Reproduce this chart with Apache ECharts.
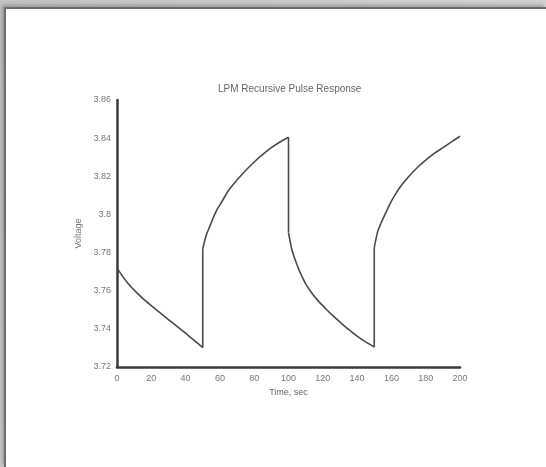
<!DOCTYPE html>
<html>
<head>
<meta charset="utf-8">
<script src="https://cdn.jsdelivr.net/npm/echarts@6/dist/echarts.min.js"></script>
<style>
  html, body { margin: 0; padding: 0; width: 546px; height: 467px; overflow: hidden;
    background: linear-gradient(135deg, #c4c4c4, #dedede); }
  #frame { position: absolute; left: 4px; top: 7px; right: 0; bottom: 0; background: #fff;
    border-top: 2px solid #6c6c6c; border-left: 2px solid #6c6c6c;
    box-shadow: -2px -2px 4px rgba(0,0,0,0.25); }
  #chart { position: absolute; left: 0; top: 0; width: 546px; height: 467px; }
</style>
</head>
<body>
<div id="frame"></div>
<div id="chart"></div>
<script>
const titleText = 'LPM Recursive Pulse Response';
const xName = 'Time, sec';
const yName = 'Voltage';

// time (sec) and voltage, segment by segment
const time1 = [0, 2, 4, 6, 8, 10, 15, 20, 25, 30, 35, 40, 45, 50];
const volt1 = [3.772, 3.7692, 3.7666, 3.7643, 3.7622, 3.7603, 3.756, 3.7522, 3.7485, 3.7449, 3.7413, 3.7377, 3.734, 3.7302];

const time2 = [50, 52, 54, 56, 58, 60, 62, 65, 70, 75, 80, 85, 90, 95, 100];
const volt2 = [3.782, 3.789, 3.7935, 3.798, 3.802, 3.805, 3.808, 3.8125, 3.818, 3.823, 3.8275, 3.8315, 3.835, 3.838, 3.8405];

const time3 = [100, 102, 104, 106, 108, 110, 114, 118, 122, 126, 130, 135, 140, 145, 150];
const volt3 = [3.7905, 3.7815, 3.776, 3.7712, 3.7672, 3.7636, 3.7583, 3.754, 3.7503, 3.7468, 3.7436, 3.7397, 3.7362, 3.7332, 3.7305];

const time4 = [150, 152, 154, 156, 158, 160, 162, 165, 170, 175, 180, 185, 190, 195, 200];
const volt4 = [3.7825, 3.791, 3.7955, 3.7995, 3.8033, 3.807, 3.810, 3.8143, 3.8198, 3.8245, 3.8285, 3.832, 3.835, 3.838, 3.841];

const segTimes = [time1, time2, time3, time4];
const segVolts = [volt1, volt2, volt3, volt4];

// vertical switching edges join the end of one segment to the start of the next
const jumpData = [];
for (let s = 0; s < segTimes.length - 1; s++) {
  const a = segTimes[s], va = segVolts[s], vb = segVolts[s + 1];
  jumpData.push([a[a.length - 1], va[va.length - 1]]);
  jumpData.push([segTimes[s + 1][0], vb[0]]);
  jumpData.push(null);
}

const lineStyle = { color: '#4a4a4a', width: 1.6 };
const series = segTimes.map((ts, s) => ({
  type: 'line',
  data: ts.map((t, i) => [t, segVolts[s][i]]),
  showSymbol: false,
  smooth: 0.3,
  lineStyle: lineStyle
}));
series.push({
  type: 'line',
  data: jumpData,
  showSymbol: false,
  connectNulls: false,
  lineStyle: lineStyle
});

const chart = echarts.init(document.getElementById('chart'), null, { renderer: 'canvas' });
chart.setOption({
  backgroundColor: 'transparent',
  animation: false,
  title: {
    text: titleText,
    left: 213,
    top: 79,
    textStyle: { fontFamily: 'Liberation Sans', fontSize: 10, fontWeight: 'normal', color: '#666' }
  },
  grid: { left: 117, right: 86, top: 100, bottom: 100 },
  xAxis: {
    type: 'value',
    min: 0, max: 200, interval: 20,
    name: xName,
    nameLocation: 'middle',
    nameGap: 20,
    nameTextStyle: { fontFamily: 'Liberation Sans', fontSize: 9, color: '#666' },
    axisLine: { show: true, onZero: false, lineStyle: { color: '#3a3a3a', width: 2.5 } },
    axisTick: { show: false },
    splitLine: { show: false },
    axisLabel: { fontFamily: 'Liberation Sans', fontSize: 9, color: '#777', margin: 7 }
  },
  yAxis: {
    type: 'value',
    min: 3.72, max: 3.86, interval: 0.02,
    name: yName,
    nameLocation: 'middle',
    nameGap: 34,
    nameRotate: 90,
    nameTextStyle: { fontFamily: 'Liberation Sans', fontSize: 9, color: '#777' },
    axisLine: { show: true, onZero: false, lineStyle: { color: '#3a3a3a', width: 2.5 } },
    axisTick: { show: false },
    splitLine: { show: false },
    axisLabel: {
      fontFamily: 'Liberation Sans', fontSize: 9, color: '#777', margin: 6,
      formatter: v => String(parseFloat(v.toFixed(2)))
    }
  },
  series: series
});
</script>
</body>
</html>
